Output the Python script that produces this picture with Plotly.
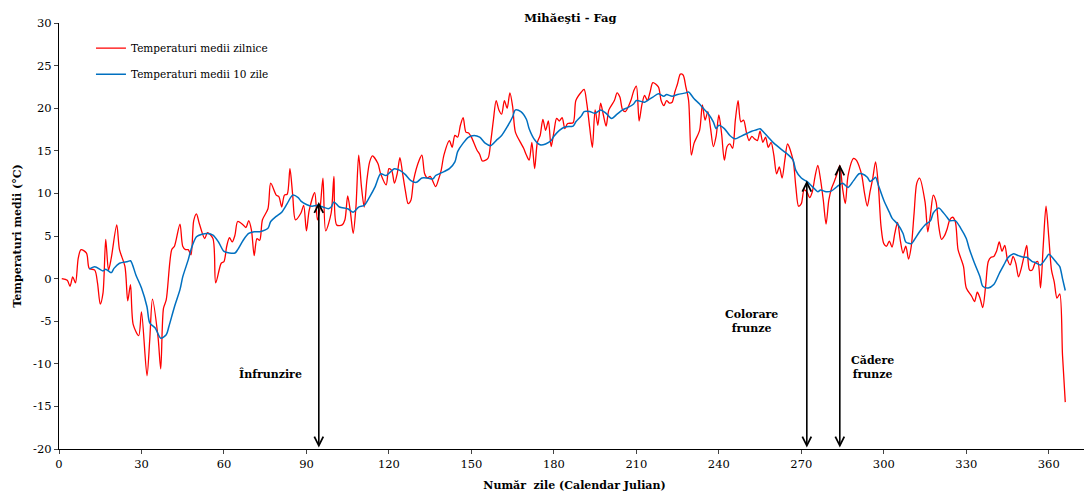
import plotly.graph_objects as go

# daily mean temperatures (red)
red_days = [
    1, 3, 4, 5, 6, 7, 8, 10, 11, 13,
    14, 15, 16, 17, 18, 19, 21, 22, 24, 25,
    26, 27, 29, 30, 32, 33, 34, 36, 37, 38,
    39, 41, 42, 44, 45, 46, 47, 48, 49, 50,
    51, 53, 54, 56, 57, 59, 60, 61, 62, 63,
    64, 65, 67, 68, 69, 70, 71, 72, 73, 74,
    76, 77, 79, 80, 81, 82, 83, 84, 85, 86,
    88, 89, 90, 91, 93, 94, 95, 96, 97, 99,
    100, 101, 103, 104, 105, 106, 107, 108, 109, 110,
    111, 112, 113, 114, 116, 117, 119, 120, 121, 122,
    123, 124, 125, 126, 127, 128, 129, 131, 132, 133,
    134, 135, 137, 138, 139, 140, 142, 143, 144, 145,
    146, 147, 148, 149, 150, 152, 153, 154, 156, 157,
    158, 159, 160, 161, 162, 163, 164, 165, 166, 168,
    169, 170, 171, 172, 173, 174, 175, 176, 177, 178,
    179, 180, 181, 182, 183, 184, 185, 187, 188, 190,
    191, 192, 193, 194, 195, 196, 197, 198, 199, 200,
    202, 203, 204, 205, 206, 208, 209, 210, 211, 212,
    213, 214, 215, 216, 218, 219, 220, 221, 222, 223,
    224, 225, 226, 227, 228, 229, 230, 231, 233, 234,
    235, 236, 237, 238, 239, 240, 241, 242, 243, 244,
    245, 246, 247, 248, 249, 250, 251, 252, 253, 254,
    255, 256, 257, 258, 259, 260, 261, 262, 263, 264,
    265, 267, 268, 269, 270, 271, 272, 273, 274, 275,
    276, 277, 278, 279, 280, 281, 282, 283, 284, 285,
    286, 287, 289, 290, 291, 292, 293, 294, 295, 296,
    297, 298, 299, 300, 301, 302, 303, 304, 305, 306,
    307, 308, 309, 310, 311, 312, 313, 315, 316, 317,
    318, 319, 320, 321, 322, 323, 324, 325, 326, 327,
    328, 329, 330, 332, 333, 334, 335, 336, 337, 338,
    339, 340, 341, 342, 343, 344, 345, 346, 347, 348,
    349, 350, 351, 352, 353, 354, 355, 356, 357, 358,
    359, 360, 361, 362, 363, 364, 365, 366,
]
red_temp = [
    0.0, -0.2, -0.9, 0.2, -0.5, 2.4, 3.4, 3.0, 1.2, 1.0,
    -0.5, -3.0, -1.7, 4.6, 1.0, 2.4, 6.3, 3.4, 1.4, -2.6,
    -0.7, -5.4, -6.7, -3.9, -11.4, -7.2, -2.4, -6.8, -10.6, -3.5,
    -2.5, 3.4, 3.8, 6.4, 3.8, 3.4, 3.4, 2.8, 6.8, 7.6,
    6.5, 4.7, 5.4, 4.7, -0.5, 1.8, 2.0, 3.8, 4.8, 4.3,
    5.1, 6.7, 6.3, 6.0, 6.8, 5.7, 2.7, 4.7, 4.5, 6.9,
    8.2, 11.2, 9.8, 9.6, 8.4, 9.8, 9.9, 12.9, 9.8, 6.9,
    7.7, 8.6, 5.6, 8.0, 10.1, 6.9, 8.4, 11.8, 5.6, 7.7,
    12.0, 6.3, 6.3, 6.9, 9.7, 7.8, 5.3, 8.4, 14.5, 10.8,
    8.4, 11.6, 13.7, 14.4, 13.5, 12.3, 11.0, 12.9, 12.7, 11.2,
    12.3, 14.2, 12.3, 10.3, 8.8, 9.2, 11.6, 13.9, 14.5, 12.3,
    11.8, 12.0, 10.8, 11.6, 12.7, 14.5, 16.2, 15.4, 16.8, 16.6,
    18.0, 18.9, 17.2, 17.1, 16.6, 15.1, 14.6, 13.8, 14.1, 16.0,
    18.6, 20.9, 19.8, 19.3, 20.9, 20.0, 21.8, 20.2, 17.2, 15.9,
    15.3, 14.5, 13.9, 16.0, 12.9, 16.0, 16.8, 18.7, 17.4, 18.5,
    15.5, 17.2, 18.8, 18.5, 18.9, 17.6, 18.2, 18.3, 20.9, 21.9,
    22.2, 20.5, 17.8, 15.4, 19.8, 18.0, 20.6, 19.2, 17.9, 19.8,
    20.9, 21.8, 21.3, 19.8, 19.6, 20.9, 22.0, 22.6, 18.5, 20.4,
    21.5, 20.9, 21.9, 23.0, 22.5, 20.9, 20.3, 20.9, 20.6, 20.7,
    21.9, 22.9, 24.0, 23.9, 22.5, 20.9, 14.5, 15.9, 17.4, 20.4,
    18.6, 19.6, 17.6, 15.5, 16.7, 19.2, 17.0, 13.9, 15.5, 15.8,
    15.3, 18.6, 20.9, 18.4, 18.6, 17.2, 16.2, 16.7, 16.4, 16.2,
    17.3, 16.0, 16.6, 15.4, 16.0, 14.5, 12.3, 13.1, 11.8, 13.9,
    15.8, 13.9, 10.8, 8.5, 8.8, 10.4, 10.2, 9.5, 10.2, 12.0,
    13.3, 11.6, 9.2, 6.4, 9.2, 10.6, 11.4, 12.3, 13.3, 10.6,
    8.8, 12.1, 14.1, 13.9, 13.2, 12.1, 10.0, 8.5, 10.2, 11.8,
    13.7, 11.0, 6.1, 4.1, 3.8, 4.4, 3.7, 5.3, 6.6, 4.5,
    3.0, 3.8, 2.3, 3.8, 7.6, 11.2, 11.8, 9.0, 5.5, 7.6,
    9.8, 9.0, 6.1, 4.6, 5.0, 5.8, 6.9, 7.2, 6.7, 3.4,
    2.4, 1.4, -1.1, -2.1, -2.7, -1.6, -2.3, -3.4, -1.0, 2.0,
    2.5, 2.6, 3.2, 4.3, 3.2, 3.9, 2.2, 1.6, 2.6, 1.8,
    0.2, 1.2, 2.6, 3.9, 1.0, 1.0, 1.8, 2.0, -1.1, 3.9,
    8.5, 4.9, 1.0, -0.4, -2.3, -1.8, -9.0, -14.5,
]

# 10-day mean temperatures (blue)
blue_days = [
    11, 13, 16, 17, 19, 20, 22, 25, 26, 28,
    30, 32, 33, 35, 37, 39, 40, 42, 44, 45,
    47, 48, 50, 52, 54, 56, 58, 60, 62, 64,
    65, 67, 69, 71, 73, 76, 77, 79, 81, 83,
    85, 87, 88, 90, 92, 94, 96, 98, 99, 100,
    102, 105, 107, 109, 111, 113, 115, 117, 119, 122,
    124, 126, 128, 130, 132, 134, 136, 137, 139, 142,
    144, 145, 147, 149, 151, 153, 155, 157, 159, 161,
    163, 165, 166, 168, 170, 171, 173, 175, 177, 179,
    180, 182, 184, 187, 188, 190, 191, 193, 195, 197,
    199, 201, 203, 205, 207, 209, 210, 213, 214, 216,
    218, 220, 221, 223, 225, 228, 229, 231, 233, 234,
    236, 238, 239, 240, 242, 244, 246, 248, 250, 252,
    253, 254, 255, 256, 258, 260, 263, 265, 267, 268,
    270, 272, 274, 276, 277, 279, 281, 283, 285, 287,
    289, 291, 292, 294, 295, 296, 297, 298, 300, 302,
    303, 305, 307, 308, 310, 311, 313, 315, 317, 318,
    320, 321, 323, 324, 326, 328, 330, 331, 333, 335,
    336, 338, 340, 342, 344, 345, 347, 349, 351, 352,
    354, 355, 357, 359, 360, 361, 363, 364, 365, 366,
]
blue_temp = [
    1.1, 1.4, 0.9, 1.1, 0.7, 1.2, 1.8, 2.0, 2.1, 0.4,
    -1.1, -3.3, -5.2, -5.8, -7.0, -6.6, -5.6, -3.3, -1.3, 0.2,
    2.2, 3.4, 4.9, 5.2, 5.3, 5.1, 4.3, 3.2, 3.0, 3.0,
    3.4, 4.5, 5.3, 5.5, 5.5, 5.9, 6.7, 7.3, 7.8, 8.8,
    9.8, 9.5, 9.1, 8.7, 8.5, 8.6, 8.4, 8.2, 8.4, 9.0,
    8.4, 8.2, 7.8, 8.4, 8.6, 9.6, 10.8, 12.3, 12.1, 12.9,
    12.7, 12.2, 11.5, 11.3, 11.8, 11.8, 11.7, 12.1, 12.4, 12.9,
    13.7, 14.9, 15.9, 16.6, 16.8, 16.6, 15.9, 15.6, 16.2, 16.8,
    17.8, 19.0, 19.8, 19.6, 18.7, 17.6, 16.3, 15.7, 15.8, 16.2,
    16.7, 17.4, 17.8, 17.9, 18.4, 19.1, 19.6, 19.6, 19.4, 19.8,
    19.4, 18.8, 19.3, 19.8, 20.1, 20.5, 20.9, 20.7, 20.9, 21.3,
    21.7, 21.4, 21.6, 21.4, 21.6, 21.8, 21.9, 21.1, 20.5, 20.1,
    19.4, 18.4, 17.6, 18.0, 17.6, 16.8, 16.4, 16.7, 17.0, 17.3,
    17.4, 17.5, 17.6, 17.3, 16.6, 15.9, 15.1, 14.6, 13.9, 12.7,
    11.8, 11.4, 10.8, 10.2, 10.4, 10.2, 10.3, 10.8, 11.2, 10.7,
    11.5, 12.3, 12.3, 11.9, 11.4, 11.6, 11.9, 11.0, 9.2, 7.8,
    7.1, 6.4, 5.3, 4.3, 4.1, 4.5, 5.5, 6.3, 6.8, 7.7,
    8.3, 8.0, 7.2, 6.8, 6.8, 5.9, 4.7, 3.6, 1.8, 0.2,
    -0.9, -1.1, -0.7, 0.6, 1.8, 2.4, 2.9, 2.7, 2.5, 2.5,
    2.0, 1.9, 1.6, 2.4, 2.85, 2.6, 1.8, 1.4, 0.0, -1.4,
]

# y tick labels with a plain hyphen, as in the source chart
y_ticks = [-20, -15, -10, -5, 0, 5, 10, 15, 20, 25, 30]
y_labels = ["-20", "-15", "-10", "-5", "0", "5", "10", "15", "20", "25", "30"]

# phenological phases: label, day, arrow top, label position
phases = ["Înfrunzire", "Colorare<br>frunze", "Cădere<br>frunze"]
phase_days = [94.5, 272, 284]
phase_tops = [9.0, 11.5, 13.4]
label_x = [77, 252, 296]
label_y = [-11.2, -5.0, -10.4]

FONT = "DejaVu Serif"

fig = go.Figure()
fig.add_trace(go.Scatter(
    x=red_days, y=red_temp, mode="lines", name="Temperaturi medii zilnice",
    line=dict(color="#ff0000", width=1.3, shape="spline", smoothing=0.8),
    legendgroup="a",
))
fig.add_trace(go.Scatter(
    x=blue_days, y=blue_temp, mode="lines", name="Temperaturi medii 10 zile",
    line=dict(color="#0070c0", width=1.5, shape="spline", smoothing=0.8),
    legendgroup="b",
))

for d, top in zip(phase_days, phase_tops):
    fig.add_annotation(
        x=d, y=top, ax=d, ay=-20, axref="x", ayref="y", xref="x", yref="y",
        text="", showarrow=True, arrowside="end+start",
        arrowhead=5, startarrowhead=5, arrowsize=1.1, startarrowsize=1.1,
        arrowwidth=1.6, arrowcolor="black",
    )
for txt, lx, ly in zip(phases, label_x, label_y):
    fig.add_annotation(
        x=lx, y=ly, xref="x", yref="y", text=f"<b>{txt}</b>", showarrow=False,
        font=dict(family=FONT, size=11, color="black"),
    )

# the page body adds an 8px offset, margins below account for it
fig.update_layout(
    width=1092, height=493,
    margin=dict(l=51, r=10, t=15, b=52, autoexpand=False),
    paper_bgcolor="white", plot_bgcolor="white",
    font=dict(family=FONT, size=11, color="black"),
    title=dict(text="<b>Mihăeşti - Fag</b>", x=0.515, xanchor="center",
               y=0.979, yanchor="middle", font=dict(family=FONT, size=11.5)),
    legend=dict(x=0.031, y=0.975, xanchor="left", yanchor="top",
                bgcolor="rgba(0,0,0,0)", tracegroupgap=7, itemwidth=30,
                font=dict(family=FONT, size=10.5)),
    showlegend=True,
)
fig.update_xaxes(
    range=[0, 375], tick0=0, dtick=30, ticks="outside", ticklen=4,
    showline=True, linecolor="black", linewidth=1.2, showgrid=False,
    zeroline=False, tickfont=dict(size=11.5), automargin=False,
    title=dict(text="<b>Număr\u00a0 zile (Calendar Julian)</b>",
               font=dict(size=11), standoff=11),
)
fig.update_yaxes(
    range=[-20, 30], tickvals=y_ticks, ticktext=y_labels,
    ticks="outside", ticklen=4,
    showline=True, linecolor="black", linewidth=1.2, showgrid=False,
    zeroline=False, tickfont=dict(size=11.5), automargin=False,
    title=dict(text="<b>Temperaturi medii (°C)</b>", font=dict(size=11),
               standoff=9),
)

fig.write_html("out.html")
